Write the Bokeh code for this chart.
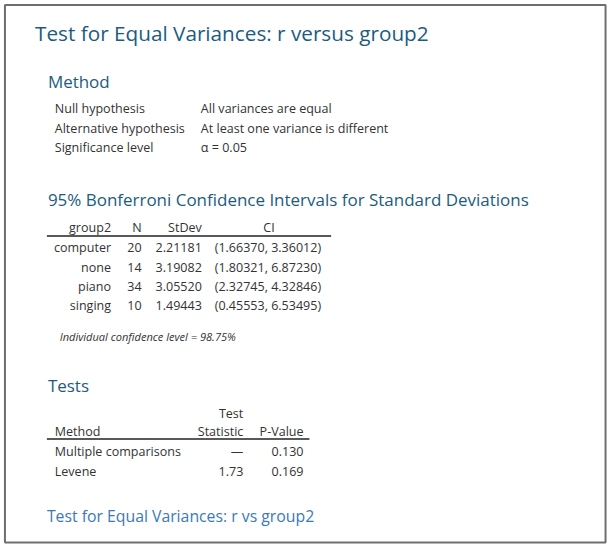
from bokeh.plotting import figure
from bokeh.models import Range1d
from bokeh.core.properties import value
from bokeh.embed import file_html
from bokeh.resources import INLINE

# ---- data ----
title = "Test for Equal Variances: r versus group2"
footer = "Test for Equal Variances: r vs group2"
method_labels = ["Null hypothesis", "Alternative hypothesis", "Significance level"]
method_values = ["All variances are equal", "At least one variance is different", "\u03b1 = 0.05"]
ci_header = ["group2", "N", "StDev", "CI"]
groups = ["computer", "none", "piano", "singing"]
n_obs = [20, 14, 34, 10]
stdevs = [2.21181, 3.19082, 3.05520, 1.49443]
ci_low = [1.66370, 1.80321, 2.32745, 0.45553]
ci_high = [3.36012, 6.87230, 4.32846, 6.53495]
individual_conf = 98.75
test_methods = ["Multiple comparisons", "Levene"]
test_stats = [None, 1.73]
p_values = [0.130, 0.169]

FONT = "Open Sans"
HEAD = "#1b5c80"
FOOT = "#3b79b8"
BODY = "#333333"

W, H = 608, 544
SC = W / 616.0
p = figure(width=W, height=H, x_range=Range1d(0, 616), y_range=Range1d(552, 0),
           output_backend="svg", toolbar_location=None, min_border=0)
p.axis.visible = False
p.grid.visible = False
p.outline_line_color = None
p.background_fill_color = "white"
p.border_fill_color = "white"

BSZ = 12.7


def txt(x, y, s, size=BSZ, color=BODY, align="left", style="normal"):
    p.text(x=[x], y=[y], text=[s], text_font=value(FONT), text_font_size=f"{size * SC:.2f}px",
           text_color=color, text_align=align, text_baseline="middle", text_font_style=style)


# frame border
p.quad(left=[4.5], right=[613], top=[4.5], bottom=[550], fill_color=None,
       line_color="#6e6e6e", line_width=2)

txt(35, 33, title, 21, HEAD)

# Method
txt(48, 82, "Method", 17.2, HEAD)
for i, (lab, val) in enumerate(zip(method_labels, method_values)):
    y = 110 + i * 19.7
    txt(55, y, lab)
    txt(203, y, val)

# CI table
txt(48, 202, "95% Bonferroni Confidence Intervals for Standard Deviations", 17.2, HEAD)
hy = 230
txt(112, hy, ci_header[0], align="right")
txt(143, hy, ci_header[1], align="right")
txt(204, hy, ci_header[2], align="right")
txt(272, hy, ci_header[3], align="center")
p.line(x=[47, 335], y=[239, 239], line_color="#222222", line_width=1.5)
for i, g in enumerate(groups):
    y = 251 + i * 19.5
    txt(112, y, g, align="right")
    txt(143, y, str(n_obs[i]), align="right")
    txt(204, y, f"{stdevs[i]:.5f}", align="right")
    txt(217, y, f"({ci_low[i]:.5f}, {ci_high[i]:.5f})")

txt(60, 341, f"Individual confidence level = {individual_conf:.2f}%", 11.2, style="italic")

# Tests
txt(48, 391, "Tests", 17.2, HEAD)
txt(246, 419, "Test", align="right")
txt(55, 437, "Method")
txt(246, 437, "Statistic", align="right")
txt(307, 437, "P-Value", align="right")
p.line(x=[47, 313], y=[445, 445], line_color="#222222", line_width=1.5)
for i, m in enumerate(test_methods):
    y = 458 + i * 19.5
    txt(55, y, m)
    s = "\u2014" if test_stats[i] is None else f"{test_stats[i]:.2f}"
    txt(246, y, s, align="right")
    txt(307, y, f"{p_values[i]:.3f}", align="right")

txt(47, 523, footer, 16.0, FOOT)

open("out.html", "w").write(file_html(p, INLINE))
